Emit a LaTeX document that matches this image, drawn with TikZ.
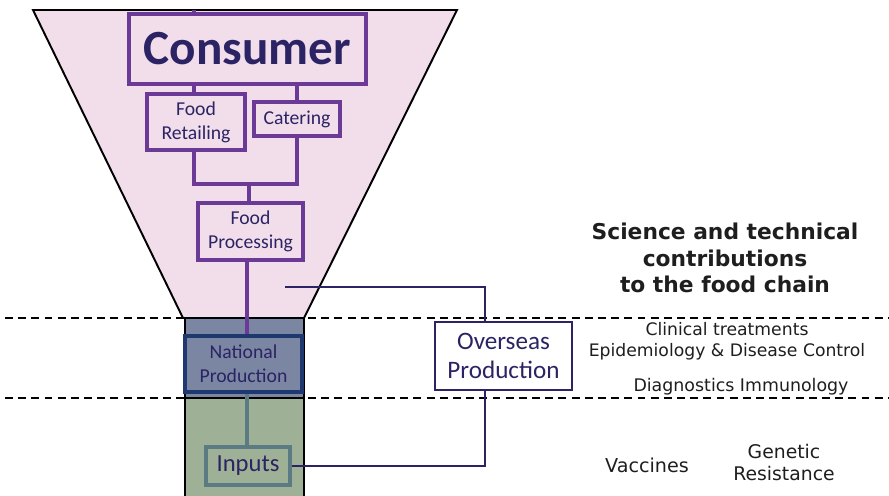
\documentclass[tikz,border=0pt]{standalone}
\usepackage{fontspec}
\setmainfont{Carlito}
\newfontfamily\verdana{DejaVu Sans}
\usetikzlibrary{positioning}
\definecolor{funnelpink}{RGB}{242,222,235}
\definecolor{chainpurple}{RGB}{106,58,150}
\definecolor{chainnavy}{RGB}{43,35,100}
\definecolor{natblue}{RGB}{122,134,162}
\definecolor{natborder}{RGB}{32,56,112}
\definecolor{inputgreen}{RGB}{158,176,150}
\definecolor{inputborder}{RGB}{92,122,132}
\definecolor{scitext}{RGB}{30,30,30}

\tikzset{
  chainbox/.style={draw=chainpurple, line width=2pt, fill=funnelpink, text=chainnavy,
                   align=center, inner sep=0pt, font=\fontsize{11.2}{13.5}\selectfont},
  chainline/.style={draw=chainpurple, line width=2pt},
  navyline/.style={draw=chainnavy, line width=1.4pt},
  scilabel/.style={text=scitext, align=center, inner sep=0pt},
  divider/.style={black, line width=1.1pt, dash pattern=on 4.5pt off 3pt}
}

\begin{document}
\begin{tikzpicture}[x=0.02cm, y=-0.02cm]
  \useasboundingbox (0,0) rectangle (889,495);

  % funnel of the chain
  \draw[fill=funnelpink, line width=1.1pt] (33,10) -- (457,10) -- (304,318) -- (183,318) -- cycle;

  % levels
  \draw[divider] (5,318) -- (889,318);
  \draw[divider] (5,398) -- (889,398);

  % primary production column
  \fill[natblue] (185,318) rectangle (304,398);
  \fill[inputgreen] (185,398) rectangle (304,497);
  \draw[line width=1.1pt] (185,497) -- (185,318) -- (304,318) -- (304,497);
  \draw[line width=1.1pt] (185,398) -- (304,398);

  % boxes
  \node[chainbox, minimum width=4.74cm, minimum height=1.4cm,
        font=\bfseries\fontsize{28}{30}\selectfont] (cons) at (247.5,49) {Consumer};
  \node[chainbox, minimum width=1.96cm, minimum height=1.12cm] (retail) at (196,122) {Food\\Retailing};
  \node[chainbox, minimum width=1.72cm, minimum height=0.68cm] (cater) at (297,119) {Catering};
  \node[chainbox, minimum width=2.1cm, minimum height=1.14cm] (proc) at (250.5,231.5) {Food\\Processing};
  \node[chainbox, draw=natborder, fill=natblue, minimum width=2.34cm, minimum height=1.12cm]
        (nat) at (243.5,364) {National\\Production};
  \node[chainbox, draw=inputborder, fill=inputgreen, minimum width=1.68cm, minimum height=0.76cm,
        font=\fontsize{14}{16}\selectfont] (inputs) at (248,466) {Inputs};
  \node[chainbox, draw=chainnavy, line width=1.4pt, fill=white, minimum width=2.74cm, minimum height=1.36cm,
        font=\fontsize{14.3}{16.5}\selectfont] (over) at (503.5,356) {Overseas\\Production};

  % links between the boxes
  \coordinate (top) at (194,10);
  \coordinate (join) at (249,184);
  \coordinate (sci) at (285,287);
  \draw[chainline] (top) -- (top |- cons.north);
  \draw[chainline] (cons.south -| top) -- (retail.north -| top);
  \draw[chainline] (cons.south -| cater) -- (cater.north);
  \draw[chainline] (retail.south -| top) |- (join) -| (cater.south);
  \draw[chainline] (join) -- (join |- proc.north);
  \draw[chainline] (proc.south -| 247,0) -- (nat.north -| 247,0);
  \draw[draw=inputborder, line width=2pt] (nat.south -| 247,0) -- (inputs.north -| 247,0);
  \draw[navyline] (inputs.east) -| ([xshift=-0.37cm]over.south);
  \draw[navyline] ([xshift=-0.37cm]over.north) |- (sci);

  % science contributions
  \node[scilabel, font=\verdana\bfseries\fontsize{12.4}{15}\selectfont] (title) at (725,258)
        {Science and technical\\contributions\\to the food chain};
  \node[scilabel, font=\verdana\fontsize{9.8}{12}\selectfont] (clin) at (727,341)
        {Clinical treatments\\Epidemiology \& Disease Control};
  \node[scilabel, font=\verdana\fontsize{9.9}{12}\selectfont] (diag) at (741,387) {Diagnostics Immunology};
  \node[scilabel, font=\verdana\fontsize{10.9}{12.5}\selectfont] (vacc) at (647,465) {Vaccines};
  \node[scilabel, font=\verdana\fontsize{10.7}{12.5}\selectfont] (gene) at (784,462) {Genetic\\Resistance};
\end{tikzpicture}
\end{document}
